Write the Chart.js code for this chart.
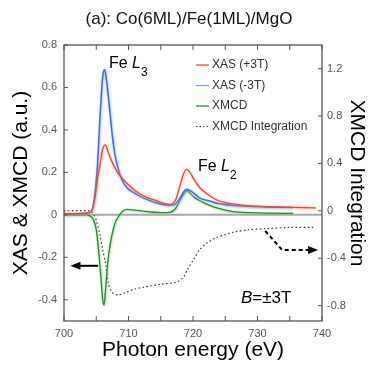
<!DOCTYPE html>
<html>
<head>
<meta charset="utf-8">
<script src="https://cdn.jsdelivr.net/npm/chart.js@4.4.1/dist/chart.umd.min.js"></script>
<style>
  html, body { margin: 0; padding: 0; background: #fff; }
</style>
</head>
<body>
<canvas id="chart" width="369" height="365"></canvas>
<script>
// photon energy (eV) and XAS at +3T
const xasPlusE = [700, 703.5, 704.3, 704.8, 705.2, 705.6, 706.0, 706.4, 706.8, 707.1, 707.6, 708.4, 709.7, 711, 712.3, 714, 716.4, 717.3, 718, 718.5, 719.0, 719.5, 720.2, 721, 722.6, 723.7, 725, 726.5, 728.8, 732, 735.5, 739];
const xasPlus = [0.005, 0.008, 0.02, 0.08, 0.17, 0.24, 0.31, 0.33, 0.30, 0.275, 0.24, 0.195, 0.15, 0.115, 0.09, 0.07, 0.05, 0.07, 0.14, 0.19, 0.215, 0.20, 0.165, 0.13, 0.09, 0.07, 0.058, 0.05, 0.042, 0.037, 0.035, 0.033];

// XAS at -3T
const xasMinusE = [700, 702, 703.5, 704.3, 704.8, 705.2, 705.6, 706.0, 706.3, 706.6, 706.9, 707.4, 707.8, 708.2, 708.9, 709.7, 710.5, 712.3, 714, 716.4, 717.2, 718, 718.6, 719.0, 719.5, 720.2, 721, 722.6, 723.7, 726, 728.8, 732, 735.5];
const xasMinus = [0.005, 0.005, 0.008, 0.02, 0.10, 0.24, 0.47, 0.65, 0.685, 0.63, 0.55, 0.40, 0.30, 0.24, 0.17, 0.13, 0.11, 0.08, 0.06, 0.045, 0.05, 0.08, 0.11, 0.12, 0.115, 0.10, 0.08, 0.065, 0.055, 0.045, 0.04, 0.037, 0.035];

// XMCD
const xmcdE = [700, 703.5, 704.0, 704.5, 705.0, 705.4, 705.7, 706.0, 706.2, 706.5, 706.8, 707.1, 707.4, 707.9, 708.4, 709.0, 709.7, 711, 713, 715, 716.4, 717.3, 718.0, 718.6, 719.1, 719.6, 720.3, 721.5, 722.5, 724, 726.2, 729, 732, 735.5];
const xmcd = [0, 0, -0.005, -0.02, -0.07, -0.18, -0.29, -0.40, -0.425, -0.33, -0.22, -0.15, -0.10, -0.04, -0.01, 0.015, 0.026, 0.022, 0.015, 0.01, 0.012, 0.03, 0.07, 0.10, 0.114, 0.10, 0.08, 0.06, 0.046, 0.03, 0.015, 0.01, 0.008, 0.007];

// XMCD integration (right axis)
const integE = [700, 704, 704.5, 705.0, 705.6, 706.0, 706.4, 706.9, 707.5, 708.4, 709.5, 711, 712.3, 715, 717.5, 718.5, 719.3, 720.1, 721, 722.2, 723.5, 725, 726.3, 728.5, 731.4, 735, 738.7];
const integ = [0, 0, -0.02, -0.08, -0.21, -0.33, -0.43, -0.62, -0.69, -0.71, -0.69, -0.66, -0.645, -0.62, -0.60, -0.56, -0.48, -0.41, -0.33, -0.27, -0.23, -0.20, -0.18, -0.16, -0.15, -0.14, -0.14];

const seriesNames = ["XAS (+3T)", "XAS (-3T)", "XMCD", "XMCD Integration"];
const seriesColors = ["#f0442a", "#3a6cdc", "#23892f", "#333333"];
const haloColors = ["rgba(250,150,130,0.9)", "rgba(130,170,245,0.9)", "rgba(120,200,120,0.9)", null];

const leftTicks = [-0.4, -0.2, 0, 0.2, 0.4, 0.6, 0.8];
const rightTicks = [-0.8, -0.4, 0, 0.4, 0.8, 1.2];

const FONT = '"Liberation Sans", Arial, sans-serif';

function pts(xs, ys) {
  return xs.map((x, i) => ({ x: x, y: ys[i] }));
}

function lineSet(i, xs, ys, axis, extra) {
  return Object.assign({
    label: seriesNames[i],
    data: pts(xs, ys),
    yAxisID: axis,
    borderColor: seriesColors[i],
    borderWidth: 1.3,
    pointRadius: 0,
    cubicInterpolationMode: "monotone",
    fill: false
  }, extra || {});
}

function richText(ctx, x, y, parts) {
  // parts: [text, font, dy]
  parts.forEach(p => {
    ctx.font = p[1];
    ctx.fillText(p[0], x, y + (p[2] || 0));
    x += ctx.measureText(p[0]).width;
  });
}

function arrowHead(ctx, x, y, dir, len, half) {
  ctx.beginPath();
  ctx.moveTo(x, y);
  ctx.lineTo(x - dir * len, y - half);
  ctx.lineTo(x - dir * len, y + half);
  ctx.closePath();
  ctx.fill();
}

// soft halo under the spectra, like the doubled lines of the original
const halo = {
  id: "halo",
  beforeDatasetDraw(chart, args) {
    const c = haloColors[args.index];
    chart.ctx.save();
    if (c) {
      chart.ctx.shadowColor = c;
      chart.ctx.shadowBlur = 2.5;
      chart.ctx.shadowOffsetX = 0.6;
      chart.ctx.shadowOffsetY = 0.6;
    }
  },
  afterDatasetDraw(chart) {
    chart.ctx.restore();
  }
};

const decor = {
  id: "decor",
  beforeDatasetsDraw(chart) {
    const { ctx, chartArea: a, scales } = chart;
    const y0 = scales.y.getPixelForValue(0);
    ctx.save();
    ctx.strokeStyle = "#a9a9a9";
    ctx.lineWidth = 2;
    ctx.beginPath();
    ctx.moveTo(a.left, y0);
    ctx.lineTo(a.right, y0);
    ctx.stroke();
    ctx.restore();
  },
  afterDraw(chart) {
    const { ctx, chartArea: a, scales } = chart;
    ctx.save();

    // frame
    ctx.strokeStyle = "#555";
    ctx.lineWidth = 1.3;
    ctx.strokeRect(a.left, a.top, a.right - a.left, a.bottom - a.top);

    // inward ticks
    ctx.lineWidth = 1;
    ctx.beginPath();
    scales.x.ticks.forEach(t => {
      const px = scales.x.getPixelForValue(t.value);
      ctx.moveTo(px, a.bottom); ctx.lineTo(px, a.bottom - 5);
      ctx.moveTo(px, a.top); ctx.lineTo(px, a.top + 5);
    });
    scales.y.ticks.forEach(t => {
      const py = scales.y.getPixelForValue(t.value);
      ctx.moveTo(a.left, py); ctx.lineTo(a.left + 4, py);
    });
    scales.y2.ticks.forEach(t => {
      const py = scales.y2.getPixelForValue(t.value);
      ctx.moveTo(a.right, py); ctx.lineTo(a.right - 4, py);
    });
    ctx.stroke();

    // title
    ctx.fillStyle = "#111";
    ctx.textAlign = "center";
    ctx.textBaseline = "middle";
    ctx.font = "17px " + FONT;
    ctx.fillText("(a): Co(6ML)/Fe(1ML)/MgO", 189, 19);

    // legend
    ctx.textAlign = "left";
    ctx.font = "12px " + FONT;
    seriesNames.forEach((name, i) => {
      const ly = 65 + i * 20.5;
      ctx.strokeStyle = i === 1 ? "#7fa3ec" : seriesColors[i];
      ctx.lineWidth = i === 3 ? 1.2 : 1.3;
      ctx.setLineDash(i === 3 ? [1.5, 2] : []);
      ctx.beginPath();
      ctx.moveTo(196, ly);
      ctx.lineTo(209, ly);
      ctx.stroke();
      ctx.setLineDash([]);
      ctx.fillStyle = "#333";
      ctx.fillText(name, 212, ly);
    });

    // peak labels
    ctx.fillStyle = "#000";
    ctx.textBaseline = "alphabetic";
    richText(ctx, 109, 68, [["Fe ", "16px " + FONT], ["L", "italic 16px " + FONT], ["3", "12px " + FONT, 8]]);
    richText(ctx, 198, 171, [["Fe ", "16px " + FONT], ["L", "italic 16px " + FONT], ["2", "12px " + FONT, 8]]);
    richText(ctx, 241, 303, [["B", "italic 17px " + FONT], ["=\u00b13T", "17px " + FONT]]);

    // left arrow (points at the left axis)
    const ay = scales.y.getPixelForValue(-0.24);
    const ax0 = scales.x.getPixelForValue(701);
    const ax1 = scales.x.getPixelForValue(705.3);
    ctx.strokeStyle = "#000";
    ctx.lineWidth = 2;
    ctx.beginPath();
    ctx.moveTo(ax1, ay);
    ctx.lineTo(ax0 + 8, ay);
    ctx.stroke();
    arrowHead(ctx, ax0, ay, -1, 10, 4);

    // dashed arrow (points at the right axis)
    const bx0 = scales.x.getPixelForValue(731.2);
    const by0 = scales.y2.getPixelForValue(-0.17);
    const bx1 = scales.x.getPixelForValue(733.8);
    const by1 = scales.y2.getPixelForValue(-0.33);
    const bx2 = scales.x.getPixelForValue(739.4);
    ctx.lineWidth = 2;
    ctx.setLineDash([4, 3]);
    ctx.beginPath();
    ctx.moveTo(bx0, by0);
    ctx.lineTo(bx1, by1);
    ctx.lineTo(bx2 - 8, by1);
    ctx.stroke();
    ctx.setLineDash([]);
    arrowHead(ctx, bx2, by1, 1, 10, 4);

    ctx.restore();
  }
};

new Chart(document.getElementById("chart").getContext("2d"), {
  type: "line",
  data: {
    datasets: [
      lineSet(0, xasPlusE, xasPlus, "y"),
      lineSet(1, xasMinusE, xasMinus, "y", { borderWidth: 1.5 }),
      lineSet(2, xmcdE, xmcd, "y"),
      lineSet(3, integE, integ, "y2", { borderDash: [1.5, 2.5], borderWidth: 1.2, cubicInterpolationMode: "default", tension: 0.3 })
    ]
  },
  options: {
    responsive: false,
    animation: false,
    devicePixelRatio: 1,
    layout: { padding: { top: 45, left: 0, right: 0, bottom: 0 } },
    plugins: { legend: { display: false }, title: { display: false }, tooltip: { enabled: false } },
    scales: {
      x: {
        type: "linear",
        min: 700,
        max: 740,
        afterFit: s => { s.height = 44; },
        afterBuildTicks: s => {
          const t = [];
          for (let v = 700; v <= 740; v += 5) t.push({ value: v });
          s.ticks = t;
        },
        grid: { display: false, drawTicks: false },
        border: { display: false },
        ticks: {
          padding: 6,
          color: "#555",
          font: { family: FONT, size: 11 },
          maxRotation: 0,
          autoSkip: false,
          callback: v => (v % 10 === 0 ? String(v) : "")
        },
        title: { display: true, text: "Photon energy (eV)", color: "#000", font: { family: FONT, size: 21 }, padding: { top: 0, bottom: 2 } }
      },
      y: {
        position: "left",
        min: -0.5,
        max: 0.8,
        afterFit: s => { s.width = 64; },
        afterBuildTicks: s => { s.ticks = leftTicks.map(v => ({ value: v })); },
        grid: { display: false, drawTicks: false },
        border: { display: false },
        ticks: { padding: 7, color: "#555", font: { family: FONT, size: 11 }, callback: v => String(Math.round(v * 10) / 10) },
        title: { display: true, text: "XAS & XMCD (a.u.)", color: "#000", font: { family: FONT, size: 21 }, padding: { top: 9, bottom: 0 } }
      },
      y2: {
        position: "right",
        min: -0.93,
        max: 1.4,
        afterFit: s => { s.width = 47; },
        afterBuildTicks: s => { s.ticks = rightTicks.map(v => ({ value: v })); },
        grid: { display: false, drawTicks: false },
        border: { display: false },
        ticks: { padding: 5, color: "#555", font: { family: FONT, size: 11 }, callback: v => String(Math.round(v * 10) / 10) },
        title: { display: true, text: "XMCD Integration", color: "#000", font: { family: FONT, size: 21 }, padding: { top: 0, bottom: 0 } }
      }
    }
  },
  plugins: [halo, decor]
});
</script>
</body>
</html>
